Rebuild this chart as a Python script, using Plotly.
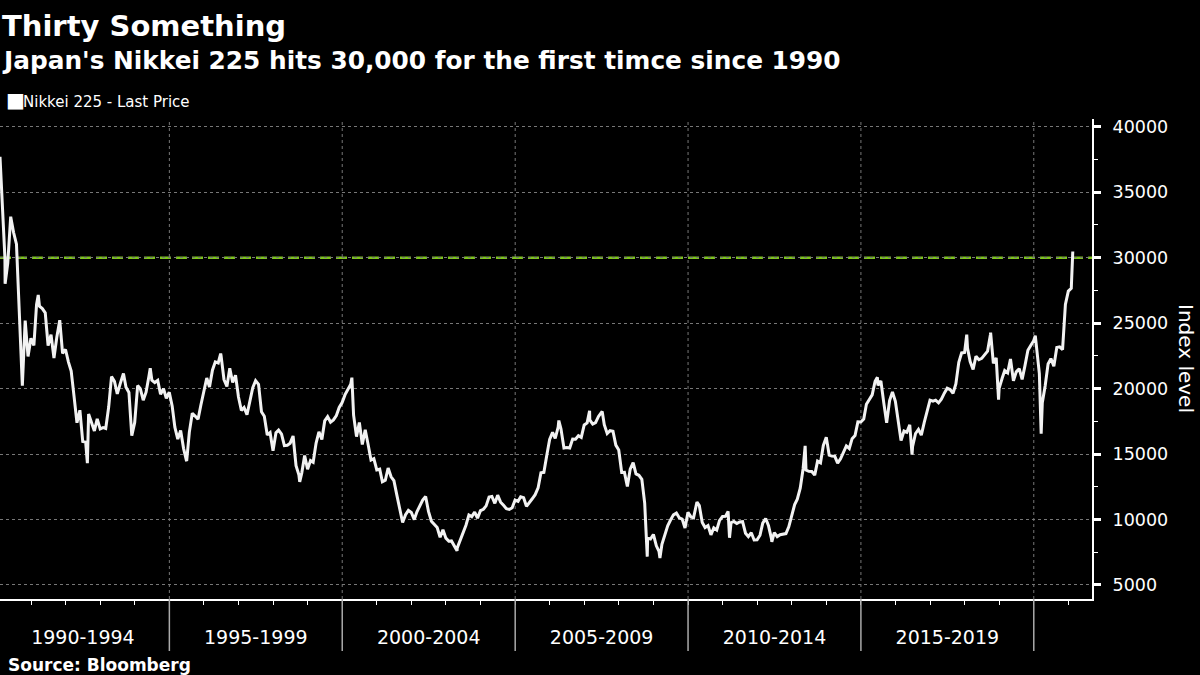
import pandas as pd
import plotly.graph_objects as go
from pandas.tseries.offsets import MonthEnd

# ---------------- data ----------------
start_month = "1990-02"
monthly_close = [
    # 1990 (Feb-Dec)
    34592, 29980, 29585, 33131, 31940, 31036, 25978, 20984, 25194, 22455, 23849,
    # 1991
    23293, 26409, 26292, 26111, 25790, 23291, 24121, 22336, 23916, 25222, 22687, 22984,
    # 1992
    22023, 21339, 19346, 17391, 18348, 15952, 15910, 18061, 17399, 16767, 17684, 16925,
    # 1993
    17024, 16953, 18591, 20919, 20552, 19590, 20380, 21027, 20106, 19704, 16408, 17417,
    # 1994
    20229, 19997, 19112, 19725, 20974, 20644, 20462, 20629, 19564, 19990, 19263, 19723,
    # 1995
    18650, 17054, 16140, 16807, 15437, 14517, 16678, 18117, 17913, 17655, 18744, 19868,
    # 1996
    20813, 20125, 21407, 22041, 21956, 22531, 20693, 20167, 21556, 20467, 21020, 19361,
    # 1997
    18330, 18557, 18003, 19151, 20069, 20605, 20331, 18229, 17888, 16459, 16636, 15259,
    # 1998
    16629, 16832, 16527, 15641, 15671, 15830, 16379, 14108, 13406, 13565, 14883, 13842,
    # 1999
    14499, 14368, 15837, 16702, 16112, 17530, 17862, 17437, 17605, 17942, 18558, 18934,
    # 2000
    19540, 19960, 20337, 17974, 16332, 17411, 15727, 16861, 15747, 14539, 14649, 13786,
    # 2001
    13843, 12884, 12999, 13934, 13262, 12969, 11861, 10713, 9775, 10366, 10697, 10543,
    # 2002
    9997, 10587, 11025, 11493, 11764, 10622, 9877, 9619, 9383, 8640, 9216, 8579,
    # 2003
    8340, 8363, 7973, 7831, 8425, 9083, 9563, 10344, 10219, 10560, 10101, 10677,
    # 2004
    10784, 11042, 11715, 11762, 11236, 11858, 11326, 11082, 10824, 10771, 10899, 11489,
    # 2005
    11388, 11741, 11669, 11009, 11277, 11584, 11900, 12414, 13574, 13607, 14872, 16111,
    # 2006
    16650, 16205, 17060, 16906, 15467, 15505, 15457, 16141, 16128, 16399, 16274, 17226,
    # 2007
    17383, 17604, 17288, 17400, 17876, 18138, 17249, 16569, 16786, 16738, 15681, 15308,
    # 2008
    13592, 13604, 12526, 13850, 14339, 13481, 13377, 13073, 11260, 8577, 8512, 8860,
    # 2009
    7994, 7568, 8110, 8828, 9523, 9958, 10357, 10493, 10133, 10035, 9346, 10546,
    # 2010
    10198, 10126, 11090, 11057, 9769, 9383, 9537, 8824, 9369, 9202, 9937, 10229,
    # 2011
    10238, 10624, 9755, 9850, 9694, 9816, 9833, 8955, 8700, 8988, 8435, 8455,
    # 2012
    8803, 9723, 10084, 9521, 8543, 9007, 8695, 8840, 8870, 8928, 9446, 10395,
    # 2013
    11139, 11559, 12398, 13861, 13775, 13677, 13668, 13389, 14456, 14328, 15662, 16291,
    # 2014
    14915, 14841, 14828, 14304, 14632, 15162, 15621, 15425, 16174, 16414, 17460, 17451,
    # 2015
    17674, 18798, 19207, 19520, 20563, 20236, 20585, 18890, 17388, 19083, 19747, 19034,
    # 2016
    17518, 16027, 16759, 16666, 17235, 15576, 16569, 16887, 16450, 17425, 18308, 19114,
    # 2017
    19041, 19119, 18909, 19197, 19651, 20033, 19925, 19646, 20356, 22012, 22725, 22765,
    # 2018
    23098, 22068, 21454, 22468, 22202, 22305, 22554, 22865, 24120, 21920, 22351, 20015,
    # 2019
    20773, 21385, 21206, 22259, 20601, 21276, 21522, 20704, 21756, 22927, 23294, 23657,
    # 2020
    23205, 21143, 18917, 20194, 21878, 22288, 21710, 23140, 23185, 22977, 26434, 27444,
    # 2021
    27663,
]

# intra-month highs / lows visible in the chart
extreme_dates = [
    "1990-02-07", "1990-04-02", "1990-10-01", "1991-03-18", "1992-08-18",
    "1993-09-03", "1994-06-13", "1995-07-03", "1996-06-26", "1998-10-09",
    "2000-04-12", "2003-04-28", "2006-04-07", "2007-02-26", "2007-07-09",
    "2008-10-27", "2009-03-10", "2010-04-05", "2011-03-15", "2012-06-04",
    "2013-05-22", "2015-06-24", "2016-06-24", "2018-01-23", "2018-10-02",
    "2018-12-25", "2020-01-17", "2020-03-19", "2021-02-16",
]
extreme_values = [
    37700, 28002, 20222, 27146, 14309,
    21148, 21552, 14485, 22666, 12880,
    20833, 7607, 17563, 18300, 18261,
    7162, 7054, 11339, 8605, 8295,
    15627, 20868, 14952, 24124, 24270,
    19155, 24041, 16552, 30467,
]

period_starts = ["1990-01-01", "1995-01-01", "2000-01-01", "2005-01-01",
                 "2010-01-01", "2015-01-01", "2020-01-01"]
period_labels = ["1990-1994", "1995-1999", "2000-2004", "2005-2009",
                 "2010-2014", "2015-2019"]
year_ticks = [f"{y}-01-01" for y in range(1991, 2022)]
y_ticks = [5000, 10000, 15000, 20000, 25000, 30000, 35000, 40000]
y_minor = [7500, 12500, 17500, 22500, 27500, 32500, 37500]
milestone = 30000

x_range = ["1990-02-07", "2021-09-07"]
y_range = [3930, 40590]

# ---------------- build series ----------------
month_dates = pd.date_range(start_month, periods=len(monthly_close), freq="MS") + MonthEnd(0)
df = pd.concat([
    pd.DataFrame({"date": month_dates, "value": monthly_close}),
    pd.DataFrame({"date": pd.to_datetime(extreme_dates), "value": extreme_values}),
]).sort_values("date")

ps = pd.to_datetime(period_starts)
label_pos = [ps[i] + (ps[i + 1] - ps[i]) / 2 for i in range(len(period_labels))]

# ---------------- figure ----------------
W, H = 1200, 675
ML, MR, MT, MB = 0, 108, 119, 76
plot_w = W - ML - MR
plot_h = H - MT - MB


def py(pix):
    """pixel row -> paper y"""
    return (H - MB - pix) / plot_h


def px(pix):
    """pixel column -> paper x"""
    return (pix - ML) / plot_w


fig = go.Figure()
fig.add_trace(go.Scatter(
    x=df["date"], y=df["value"], mode="lines",
    line=dict(color="#f2f2f2", width=3),
    name="Nikkei 225 - Last Price", showlegend=False,
    hovertemplate="%{x|%b %d, %Y}: %{y:,.0f}<extra></extra>",
))

shapes = []
# dashed milestone line
shapes.append(dict(type="line", xref="paper", x0=0, x1=1, yref="y", y0=milestone, y1=milestone,
                   line=dict(color="#7dc41c", width=2.5, dash="11px,5px"), layer="below"))
for d in period_starts[1:]:
    # vertical dotted grid
    shapes.append(dict(type="line", xref="x", x0=d, x1=d, yref="paper", y0=0, y1=1,
                       line=dict(color="#777777", width=1, dash="dot"), layer="below"))
    # separator below the axis
    shapes.append(dict(type="line", xref="x", x0=d, x1=d, yref="paper", y0=0, y1=py(651),
                       line=dict(color="#aaaaaa", width=1.5), layer="above"))

annotations = [
    dict(text="<b>Thirty Something</b>", xref="paper", yref="paper", x=0, y=py(26),
         xanchor="left", yanchor="middle", showarrow=False,
         font=dict(family="DejaVu Sans", size=29, color="white")),
    dict(text="<b>Japan's Nikkei 225 hits 30,000 for the first timce since 1990</b>",
         xref="paper", yref="paper", x=0, y=py(60), xanchor="left", yanchor="middle",
         showarrow=False, font=dict(family="DejaVu Sans", size=24.8, color="white")),
    dict(text="■", xref="paper", yref="paper", x=px(4), y=py(100),
         xanchor="left", yanchor="middle", showarrow=False,
         font=dict(family="DejaVu Sans", size=20, color="white")),
    dict(text="Nikkei 225 - Last Price", xref="paper", yref="paper", x=px(21), y=py(102),
         xanchor="left", yanchor="middle", showarrow=False,
         font=dict(family="DejaVu Sans", size=15, color="white")),
    dict(text="Index level", xref="paper", yref="paper", x=px(1186), y=py(358),
         xanchor="center", yanchor="middle", textangle=90, showarrow=False,
         font=dict(family="DejaVu Sans", size=20, color="white")),
    dict(text="<b>Source: Bloomberg</b>", xref="paper", yref="paper", x=px(6), y=py(665),
         xanchor="left", yanchor="middle", showarrow=False,
         font=dict(family="DejaVu Sans", size=17, color="white")),
]

fig.update_layout(
    width=W, height=H,
    margin=dict(l=ML, r=MR, t=MT, b=MB, pad=0),
    paper_bgcolor="black", plot_bgcolor="black",
    font=dict(family="DejaVu Sans", color="white"),
    shapes=shapes, annotations=annotations,
    showlegend=False,
    xaxis=dict(
        type="date", range=x_range, showgrid=False, zeroline=False,
        showline=True, linecolor="white", linewidth=2,
        tickmode="array", tickvals=label_pos, ticktext=period_labels,
        ticks="", tickfont=dict(size=19, color="white"), ticklabelstandoff=20,
        minor=dict(tickmode="array", tickvals=year_ticks, ticks="outside",
                   ticklen=4, tickwidth=1, tickcolor="white", showgrid=False),
    ),
    yaxis=dict(
        side="right", range=y_range, zeroline=False,
        showline=True, linecolor="white", linewidth=2,
        tickmode="array", tickvals=y_ticks, tickformat="d",
        ticks="outside", ticklen=7, tickwidth=3,
        tickcolor="white", tickfont=dict(size=17.5, color="white"), ticklabelstandoff=8,
        showgrid=True, gridcolor="#777777", griddash="dot", gridwidth=1,
        minor=dict(tickmode="array", tickvals=y_minor, ticks="outside", ticklen=4,
                   tickwidth=1, tickcolor="white", showgrid=False),
    ),
)

fig.write_html(
    "out.html",
    config={"displayModeBar": False},
    post_script="document.body.style.margin='0';document.body.style.background='black';",
)
